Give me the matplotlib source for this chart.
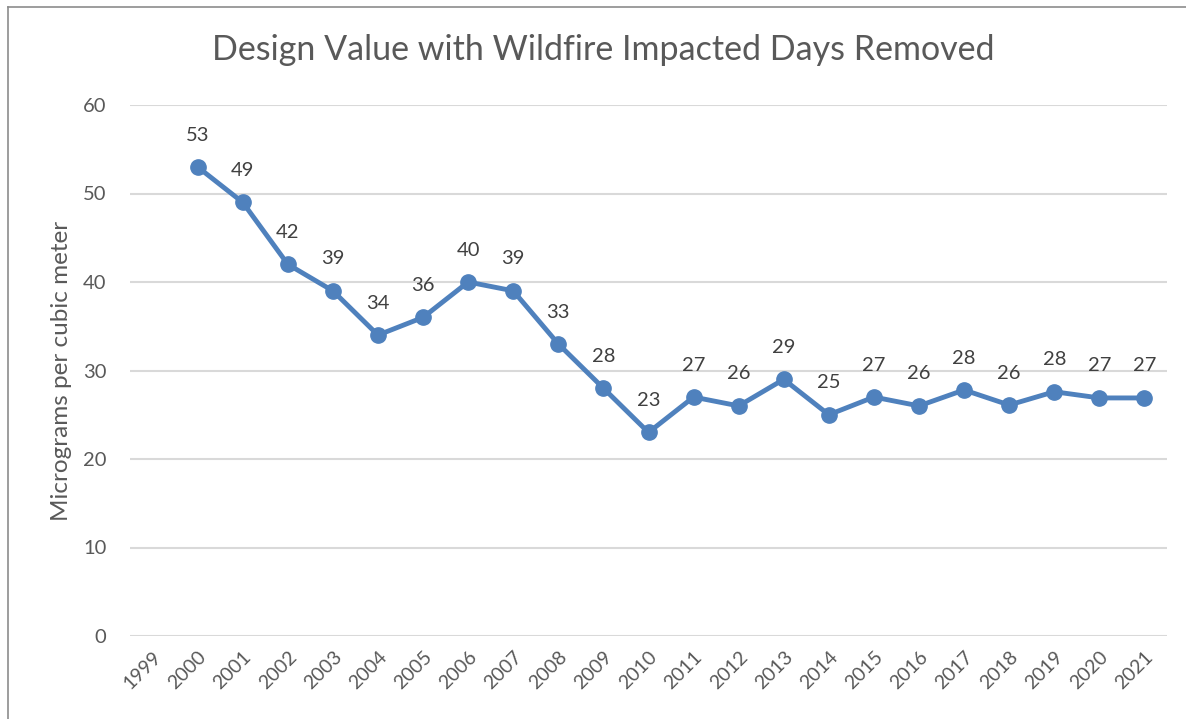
import matplotlib
matplotlib.use('AGG')
import matplotlib.pyplot as plt
from matplotlib.lines import Line2D

# categories shown on the axis (1999 has no value)
years = [str(y) for y in range(1999, 2022)]
data_years = [str(y) for y in range(2000, 2022)]
values = [53, 49, 42, 39, 34, 36, 40, 39, 33, 28, 23,
          27, 26, 29, 25, 27, 26, 27.8, 26.1, 27.6, 26.9, 26.9]

title = 'Design Value with Wildfire Impacted Days Removed'
ylabel = 'Micrograms per cubic meter'

plt.rcParams['font.family'] = ['Lato', 'DejaVu Sans']

fig = plt.figure(figsize=(11.86, 7.19), dpi=100)
ax = fig.add_axes([130 / 1186, 1 - 636 / 719, (1167 - 130) / 1186, (636 - 105) / 719])

pos = {y: i for i, y in enumerate(years)}
xs = [pos[y] for y in data_years]
ax.plot(xs, values, color='#4F81BD', lw=3.5, marker='o', ms=11, zorder=3,
        solid_joinstyle='round')

for x, v in zip(xs, values):
    ax.annotate('{:.0f}'.format(v), (x, v), xytext=(0, 23), textcoords='offset points',
                ha='center', va='center', fontsize=14.5, color='#404040')

ax.set_xlim(-0.5, len(years) - 0.5)
ax.set_ylim(0, 60)
ax.set_yticks(range(0, 61, 10))
ax.set_xticks(range(len(years)))
ax.set_xticklabels(years, rotation=45, ha='right', va='top', rotation_mode='anchor')
ax.tick_params(axis='x', length=0, pad=9, labelsize=14, labelcolor='#595959')
ax.tick_params(axis='y', length=0, pad=17, labelsize=14.5, labelcolor='#595959')
ax.grid(axis='y', color='#d9d9d9', lw=1.5)
ax.set_axisbelow(True)
for s in ax.spines.values():
    s.set_visible(False)

fig.text(62 / 1186, 1 - 371 / 719, ylabel, rotation=90, ha='center', va='center',
         fontsize=17.5, color='#595959')
fig.text(603 / 1186, 1 - 50 / 719, title, ha='center', va='center',
         fontsize=24.5, color='#595959')

# chart frame (only top and left visible in the crop)
fig.add_artist(Line2D([8 / 1186, 8 / 1186], [0, 1 - 7 / 719], transform=fig.transFigure,
                      color='#8c8c8c', lw=1.2))
fig.add_artist(Line2D([8 / 1186, 1], [1 - 7 / 719, 1 - 7 / 719], transform=fig.transFigure,
                      color='#8c8c8c', lw=1.2))

plt.savefig('out.png', dpi=100)
